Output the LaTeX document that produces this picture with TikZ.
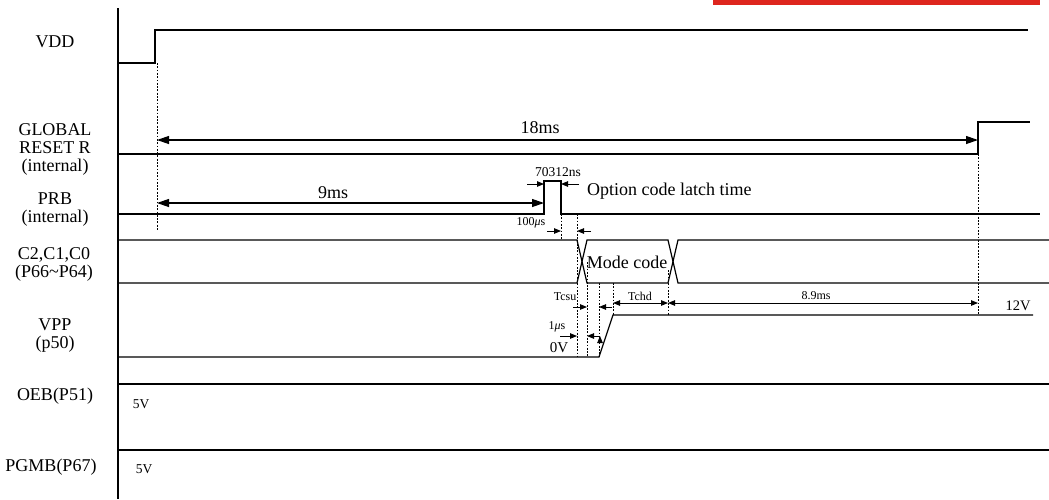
\documentclass[tikz,border=0pt]{standalone}
\usepackage{fontspec}
\setmainfont{Liberation Serif}
\usetikzlibrary{arrows.meta}
\definecolor{barred}{RGB}{222,38,30}
\tikzset{
  wave/.style={line width=1.2pt},
  guide/.style={line width=0.6pt,dash pattern=on 1.8pt off 1.5pt},
  big/.style={line width=1.2pt,{Triangle[length=12pt,width=8pt]}-{Triangle[length=12pt,width=8pt]}},
  small/.style={line width=0.9pt,-{Triangle[length=7pt,width=5.5pt]}},
  smalldbl/.style={line width=0.9pt,{Triangle[length=7pt,width=5.5pt]}-{Triangle[length=7pt,width=5.5pt]}},
  sig/.style={font=\fontsize{18}{20}\selectfont,align=center,inner sep=0pt},
  lbl/.style={font=\fontsize{18}{20}\selectfont,inner sep=0pt},
  tiny/.style={font=\fontsize{12}{14}\selectfont,inner sep=0pt}
}
\begin{document}
\begin{tikzpicture}[x=1pt,y=-1pt]
\useasboundingbox (0,0) rectangle (1049,499);
\fill[barred] (713,0) rectangle (1040,5);
% signal names
\node[sig] (vdd) at (55,42) {VDD};
\node[sig] (grst) at (55,149) {GLOBAL\\[-2pt]RESET R\\[-2pt](internal)};
\node[sig] (prb) at (55,210) {PRB\\[-2pt](internal)};
\node[sig] (cbus) at (54,264) {C2,C1,C0\\[-2pt](P66\textasciitilde P64)};
\node[sig] (vpp) at (55,336) {VPP\\[-2pt](p50)};
\node[sig] (oeb) at (55,396) {OEB(P51)};
\node[sig] (pgmb) at (51,467) {PGMB(P67)};
% waveforms
\draw[line width=1.5pt] (118,8) -- (118,499);
\draw[wave] (118,63) -- (155,63) -- (155,30) -- (1028,30);
\draw[wave] (118,154) -- (978,154) -- (978,122) -- (1030,122);
\draw[wave] (118,214) -- (544,214) -- (544,181) -- (561,181) -- (561,214) -- (1040,214);
\draw[wave] (118,240) -- (577,240) -- (587,283) -- (668,283) -- (678,240) -- (1049,240);
\draw[wave] (118,283) -- (577,283) -- (587,240) -- (668,240) -- (678,283) -- (1049,283);
\draw[wave] (118,357) -- (599,357) -- (613,315) -- (1033,315);
\draw[wave] (118,384) -- (1049,384);
\draw[wave] (118,450) -- (1049,450);
% guide lines
\coordinate (d0) at (157,63);   \coordinate (d0e) at (157,230);
\coordinate (d1) at (978,154);  \coordinate (d1e) at (978,315);
\coordinate (d2) at (561,214);  \coordinate (d2e) at (561,240);
\coordinate (d3) at (577,214);  \coordinate (d3e) at (577,357);
\coordinate (d4) at (587,262);  \coordinate (d4e) at (587,357);
\coordinate (d5) at (599,283);  \coordinate (d5e) at (599,357);
\coordinate (d6) at (613,283);  \coordinate (d6e) at (613,315);
\coordinate (d7) at (668,270);  \coordinate (d7e) at (668,315);
\foreach \g in {0,...,7} \draw[guide] (d\g) -- (d\g e);
% arrow ends
\coordinate (a18l) at (157,140); \coordinate (a18r) at (978,140);
\coordinate (a9l) at (157,203);  \coordinate (a9r) at (544,203);
\coordinate (pl0) at (527,184);  \coordinate (pl1) at (544,184);
\coordinate (pr0) at (579,184);  \coordinate (pr1) at (561,184);
\coordinate (hl0) at (547,231);  \coordinate (hl1) at (561,231);
\coordinate (hr0) at (591,231);  \coordinate (hr1) at (577,231);
\coordinate (sl0) at (573,307);  \coordinate (sl1) at (587,307);
\coordinate (sr0) at (612,307);  \coordinate (sr1) at (599,307);
\coordinate (tl) at (613,303);   \coordinate (tr) at (668,303);
\coordinate (el) at (668,303);   \coordinate (er) at (978,303);
\coordinate (ul0) at (560,336);  \coordinate (ul1) at (577,336);
\coordinate (ur0) at (600,336);  \coordinate (ur1) at (587,336);
\draw[big] (a18l) -- (a18r);
\draw[big] (a9l) -- (a9r);
\draw[small]
(pl0) edge (pl1)
(pr0) edge (pr1)
(hl0) edge (hl1)
(hr0) edge (hr1)
(sl0) edge (sl1)
(sr0) edge (sr1)
(ul0) edge (ul1)
(ur0) edge (ur1);
\draw[smalldbl] (tl) -- (tr);
\draw[smalldbl] (el) -- (er);
% labels
\node[lbl] (t18) at (540,128) {18ms};
\node[lbl] (t9) at (333,193) {9ms};
\node[font=\fontsize{13.5}{15}\selectfont,inner sep=0pt] (tpulse) at (558,172) {70312ns};
\node[lbl,anchor=west] (tlatch) at (587,191) {Option code latch time};
\node[tiny] (t100) at (531,223) {100{\itshape μ}s};
\node[lbl] (tmode) at (627,262) {Mode code};
\node[tiny] (tcsu) at (565,297) {Tcsu};
\node[tiny] (tchd) at (640,296) {Tchd};
\node[tiny] (t89) at (816,296) {8.9ms};
\node[font=\fontsize{14.5}{16}\selectfont,inner sep=0pt] (t12) at (1018,306) {12V};
\node[tiny] (t1u) at (557,327) {1{\itshape μ}s};
\node[font=\fontsize{15}{17}\selectfont,inner sep=0pt] (t0v) at (559,348) {0V};
\node[font=\fontsize{13.5}{15}\selectfont,inner sep=0pt] (t5a) at (141,404) {5V};
\node[font=\fontsize{13.5}{15}\selectfont,inner sep=0pt] (t5b) at (144,469) {5V};
\end{tikzpicture}
\end{document}
